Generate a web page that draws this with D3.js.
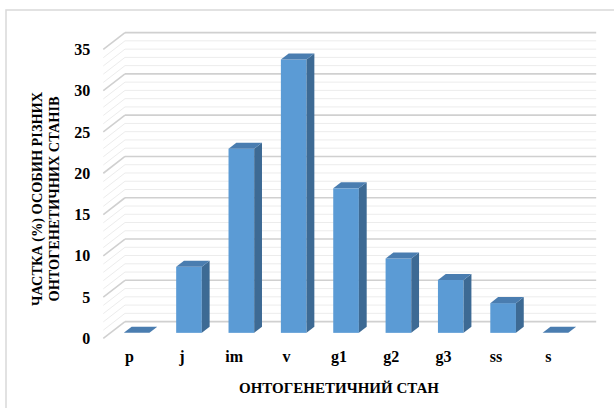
<!DOCTYPE html>
<html>
<head>
<meta charset="utf-8">
<script src="https://cdn.jsdelivr.net/npm/d3@7"></script>
<style>
  html, body { margin: 0; padding: 0; background: #fff; }
  svg { display: block; }
</style>
</head>
<body>
<script>
// Ontogenetic states and share of individuals (%)
const categories = ["p", "j", "im", "v", "g1", "g2", "g3", "ss", "s"];
const shares = [0, 8.0, 22.3, 33.1, 17.5, 9.0, 6.4, 3.6, 0];
const yTicks = [0, 5, 10, 15, 20, 25, 30, 35];
const yTitleLines = ["ЧАСТКА (%) ОСОБИН РІЗНИХ", "ОНТОГЕНЕТИЧНИХ СТАНІВ"];
const xTitle = "ОНТОГЕНЕТИЧНИЙ СТАН";

const FONT = '"Liberation Serif", "Times New Roman", serif';

const W = 614, H = 408;
const svg = d3.select("body").append("svg").attr("width", W).attr("height", H);
svg.append("rect").attr("width", W).attr("height", H).attr("fill", "#fff");

// chart frame
svg.append("rect")
  .attr("x", 6).attr("y", 10).attr("width", 640).attr("height", 420)
  .attr("fill", "none").attr("stroke", "#d9d9d9").attr("stroke-width", 1.5);

// front plane scales + depth vector of the 3D box
const x = d3.scaleBand().domain(categories).range([103.3, 574.5]);
const y = d3.scaleLinear().domain([0, 35]).range([338.4, 49.4]);
const depth = { dx: 21.7, dy: -16.8 };
const x0 = x.range()[0], x1 = x.range()[1];

// walls: back wall + left side wall gridlines (major every 5, minor every 1)
const grid = svg.append("g");
d3.range(0, 36).forEach(v => {
  const major = v % 5 === 0;
  const yy = y(v);
  const col = major ? "#d0d0d0" : "#ececec";
  const sw = major ? 1.6 : 1;
  grid.append("line")
    .attr("x1", x0 + depth.dx).attr("x2", x1 + depth.dx)
    .attr("y1", yy + depth.dy).attr("y2", yy + depth.dy)
    .attr("stroke", col).attr("stroke-width", sw);
  grid.append("line")
    .attr("x1", x0).attr("y1", yy)
    .attr("x2", x0 + depth.dx).attr("y2", yy + depth.dy)
    .attr("stroke", col).attr("stroke-width", sw);
});

// 3D columns
const bw = x.bandwidth();
const colW = bw * 0.49;
const t0 = 0.33, t1 = 0.69;
const fx = t0 * depth.dx, fy = t0 * depth.dy;
const ddx = (t1 - t0) * depth.dx, ddy = (t1 - t0) * depth.dy;

const bars = svg.append("g").selectAll("g")
  .data(categories.map((c, i) => ({ c, v: shares[i] })))
  .join("g");

bars.each(function(d) {
  const g = d3.select(this);
  const left = x(d.c) + bw / 2 - colW / 2 + fx;
  const right = left + colW;
  const base = y(0) + fy;
  const top = y(d.v) + fy;
  if (d.v > 0) {
    g.append("rect")
      .attr("x", left).attr("y", top)
      .attr("width", colW).attr("height", base - top)
      .attr("fill", "#5b9bd5");
    g.append("path")
      .attr("d", `M${right},${top}L${right + ddx},${top + ddy}L${right + ddx},${base + ddy}L${right},${base}Z`)
      .attr("fill", "#3d6a94");
  }
  g.append("path")
    .attr("d", `M${left},${top}L${left + ddx},${top + ddy}L${right + ddx},${top + ddy}L${right},${top}Z`)
    .attr("fill", "#4a7db0");
});

// value axis
const yAxis = svg.append("g")
  .attr("transform", `translate(${x0},0)`)
  .call(d3.axisLeft(y).tickValues(yTicks).tickSize(0).tickPadding(13));
yAxis.select(".domain").remove();
yAxis.selectAll("text")
  .style("font-family", FONT).style("font-weight", "bold")
  .style("font-size", "16px").style("fill", "#000");

// category axis
const xAxis = svg.append("g")
  .attr("transform", `translate(0,${y(0)})`)
  .call(d3.axisBottom(x).tickSize(0).tickPadding(12));
xAxis.select(".domain").remove();
xAxis.selectAll("text")
  .style("font-family", FONT).style("font-weight", "bold")
  .style("font-size", "16px").style("fill", "#000");

// axis titles
const yTitle = svg.append("text")
  .attr("transform", "translate(45.5,199) rotate(-90)")
  .attr("text-anchor", "middle")
  .style("font-family", FONT).style("font-weight", "bold").style("font-size", "14.3px");
yTitleLines.forEach((line, i) => {
  yTitle.append("tspan")
    .attr("x", 0)
    .attr("y", i === 0 ? -3.5 : 13.5)
    .text(line);
});

svg.append("text")
  .attr("x", 339).attr("y", 392.5)
  .attr("text-anchor", "middle")
  .style("font-family", FONT).style("font-weight", "bold").style("font-size", "15px")
  .text(xTitle);
</script>
</body>
</html>
